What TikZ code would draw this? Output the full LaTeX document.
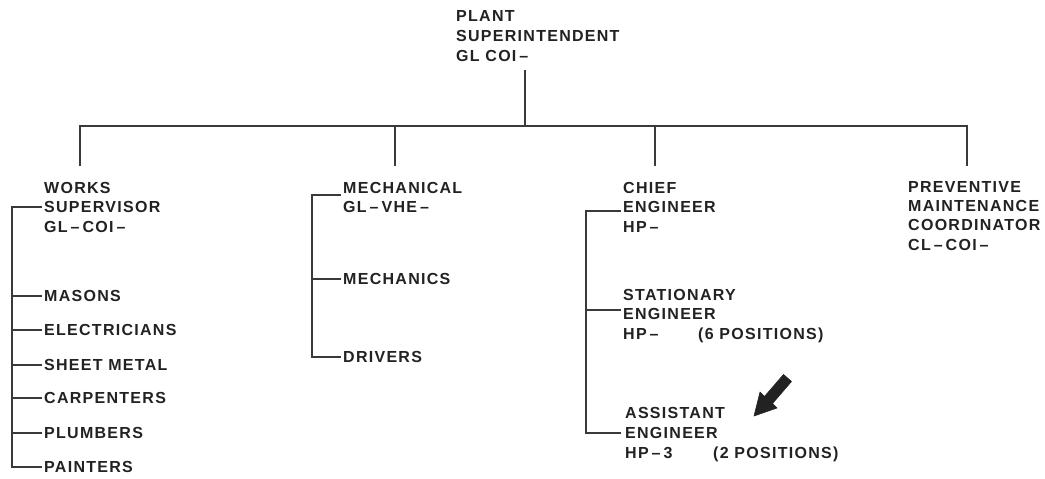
\documentclass[tikz,border=0pt]{standalone}
\usepackage{fontspec}
\newfontfamily\jf[LetterSpace=8]{Liberation Sans}
\definecolor{ink}{HTML}{222222}
\definecolor{rule}{HTML}{3A3A3A}
\newcommand{\dsh}{\hspace{3pt}–\hspace{3pt}}
\begin{document}
\begin{tikzpicture}[x=1pt,y=-1pt,
  txt/.style={anchor=west,inner sep=0pt,text height=11.5pt,text depth=0pt,text=ink,
    font={\jf\bfseries\fontsize{16}{19}\selectfont}},
  conn/.style={draw=rule,line width=1.8pt,line cap=butt,line join=miter},
  bigarrow/.style={fill=ink,draw=ink,line width=0.6pt,line join=round}]
\useasboundingbox[fill=white] (0,0) rectangle (1045,479);

% top
\node[txt] (ps-a) at (456,16) {PLANT};
\node[txt] (ps-b) at (456,36) {SUPERINTENDENT};
\node[txt] (ps-c) at (456,56) {GL COI\hspace{3pt}–};
\coordinate (ps-foot) at (525,70);
\coordinate (bus-top) at (525,126);
\coordinate (bus-l) at (80,126);
\coordinate (bus-r) at (967,126);
\coordinate (d-ws) at (80,166);
\coordinate (d-me) at (395,166);
\coordinate (d-ce) at (655,166);
\coordinate (d-pm) at (967,166);
\draw[conn] (ps-foot) -- (bus-top);
\draw[conn] (d-ws) -- (bus-l) -- (bus-r) -- (d-pm);
\draw[conn] (d-me) -- (d-me |- bus-l);
\draw[conn] (d-ce) -- (d-ce |- bus-l);

% works supervisor
\node[txt] (ws-a) at (44,187.5) {WORKS};
\node[txt] (ws-b) at (44,207) {SUPERVISOR};
\node[txt] (ws-c) at (44,227) {GL\dsh COI\dsh};
\node[txt] (masons) at (44,296) {MASONS};
\node[txt] (elec) at (44,330) {ELECTRICIANS};
\node[txt] (sheet) at (44,365) {SHEET METAL};
\node[txt] (carp) at (44,398) {CARPENTERS};
\node[txt] (plumb) at (44,433) {PLUMBERS};
\node[txt] (paint) at (44,467) {PAINTERS};
\coordinate (wsx) at (12,0);
\draw[conn] ([xshift=-2pt]ws-b.west) -- (wsx |- ws-b) -- (wsx |- paint) -- ([xshift=-2pt]paint.west);
\foreach \n in {masons,elec,sheet,carp,plumb}
  \draw[conn] (wsx |- \n) -- ([xshift=-2pt]\n.west);

% mechanical
\node[txt] (me-a) at (343,188) {MECHANICAL};
\node[txt] (me-b) at (343,207) {GL\dsh VHE\dsh};
\node[txt] (mech) at (343,279) {MECHANICS};
\node[txt] (drv) at (343,357) {DRIVERS};
\coordinate (mex) at (312,0);
\coordinate (me-join) at ([shift={(-2pt,-7pt)}]me-a.west);
\draw[conn] (me-join) -- (mex |- me-join) -- (mex |- drv) -- ([xshift=-2pt]drv.west);
\draw[conn] (mex |- mech) -- ([xshift=-2pt]mech.west);

% chief engineer
\node[txt] (ce-a) at (623,188) {CHIEF};
\node[txt] (ce-b) at (623,207) {ENGINEER};
\node[txt] (ce-c) at (623,227) {HP\dsh};
\node[txt] (se-a) at (623,295) {STATIONARY};
\node[txt] (se-b) at (623,314) {ENGINEER};
\node[txt] (se-c) at (623,334) {HP\dsh};
\node[txt] (se-d) at (698,334) {(6 POSITIONS)};
\node[txt] (ae-a) at (625,413) {ASSISTANT};
\node[txt] (ae-b) at (625,433) {ENGINEER};
\node[txt] (ae-c) at (625,453) {HP\dsh 3};
\node[txt] (ae-d) at (713,453) {(2 POSITIONS)};
\coordinate (cex) at (586,0);
\coordinate (ce-join) at ([shift={(-2pt,-4pt)}]ce-b.west);
\coordinate (se-join) at ([shift={(-2pt,4pt)}]se-b.west);
\draw[conn] (ce-join) -- (cex |- ce-join) -- (cex |- ae-b) -- ([xshift=-4pt]ae-b.west);
\draw[conn] (cex |- se-join) -- (se-join);

% preventive maintenance
\node[txt] (pm-a) at (908,187) {PREVENTIVE};
\node[txt] (pm-b) at (908,206) {MAINTENANCE};
\node[txt] (pm-c) at (908,225) {COORDINATOR};
\node[txt] (pm-d) at (908,245) {CL\dsh COI\dsh};

% block arrow
\path[bigarrow] (754,416) -- (777,408) -- (772.5,403.5) -- (791.5,381.5)
  -- (783.5,374.5) -- (764.5,396.5) -- (760,392) -- cycle;
\end{tikzpicture}
\end{document}
